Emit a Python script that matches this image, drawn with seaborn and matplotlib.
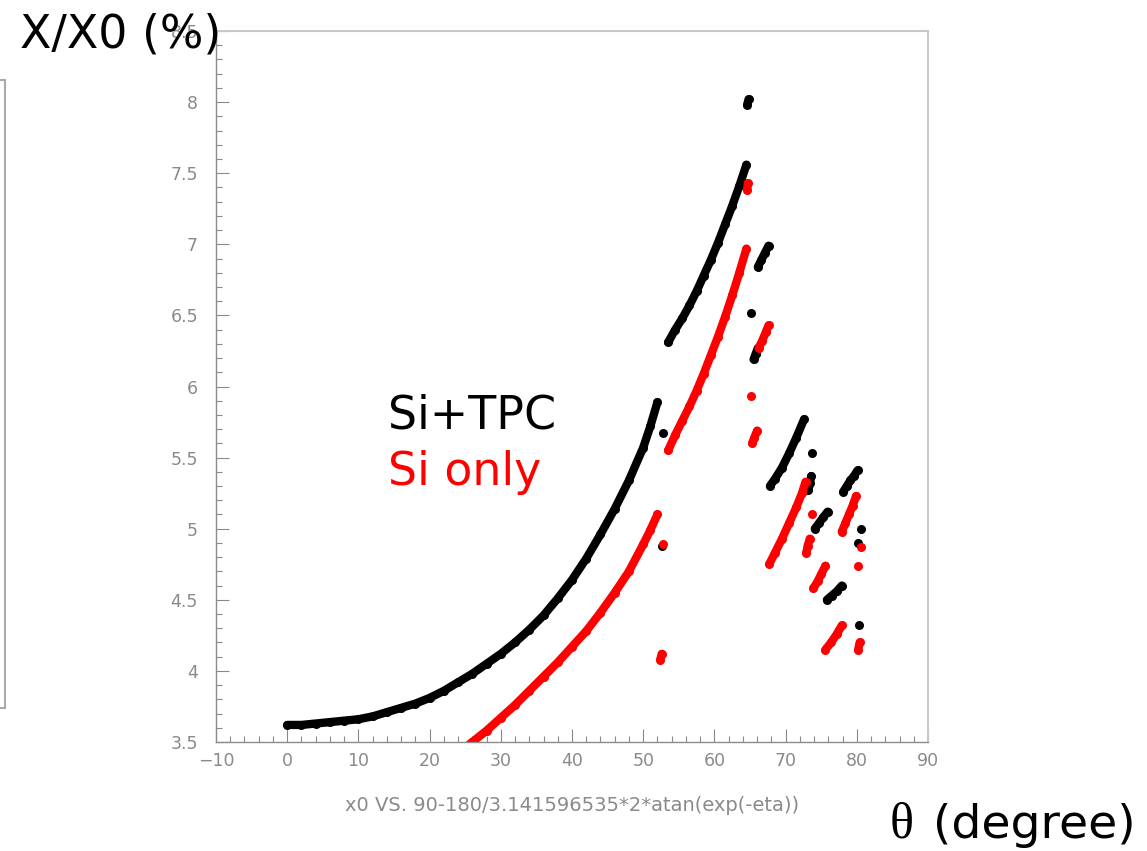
import matplotlib
matplotlib.use("Agg")
import matplotlib.pyplot as plt
from matplotlib.ticker import MultipleLocator, FuncFormatter
from matplotlib.patches import Rectangle
import pandas as pd
import seaborn as sns

# ---- Si+TPC material budget (x/X0 in %) versus polar angle theta (deg) ----
tpc_main_theta = [0, 2, 4, 6, 8, 10, 12, 14, 16, 18, 20, 22, 24, 26, 28, 30,
                  32, 34, 36, 38, 40, 42, 44, 46, 48, 50, 51, 52]
tpc_main_x0 = [3.62, 3.62, 3.63, 3.64, 3.65, 3.66, 3.68, 3.71, 3.74, 3.77,
               3.81, 3.86, 3.92, 3.98, 4.05, 4.12, 4.20, 4.29, 4.39, 4.51,
               4.64, 4.79, 4.96, 5.14, 5.34, 5.57, 5.72, 5.89]
tpc_mid_theta = [53.5, 54.5, 55.5, 56.5, 57.5, 58.5, 59.5, 60.5, 61.5, 62.5, 63.5, 64.5]
tpc_mid_x0 = [6.31, 6.40, 6.48, 6.57, 6.67, 6.78, 6.89, 7.01, 7.14, 7.27, 7.41, 7.56]
tpc_pieces = [
    ([52.8], [5.67]),
    ([52.6], [4.88]),
    ([64.6, 64.8], [7.98, 8.02]),
    ([65.2], [6.52]),
    ([65.5, 65.8, 66.1], [6.19, 6.23, 6.27]),
    ([66.1, 66.6, 67.1, 67.6], [6.84, 6.89, 6.94, 6.99]),
    ([67.8, 68.5, 69.5, 70.5, 71.5, 72.6], [5.30, 5.35, 5.43, 5.53, 5.64, 5.77]),
    ([73.7], [5.53]),
    ([73.2, 73.4, 73.6], [5.27, 5.32, 5.37]),
    ([74.1, 74.7, 75.3, 75.9], [5.00, 5.04, 5.08, 5.12]),
    ([78.1, 78.6, 79.1, 79.6, 80.1], [5.26, 5.30, 5.34, 5.37, 5.41]),
    ([80.6], [5.00]),
    ([80.2], [4.90]),
    ([75.8, 76.5, 77.2, 77.9], [4.50, 4.53, 4.56, 4.60]),
    ([80.3], [4.32]),
]

# ---- Si only ----
si_main_theta = [25, 26, 28, 30, 32, 34, 36, 38, 40, 42, 44, 46, 48, 50, 51, 52]
si_main_x0 = [3.46, 3.50, 3.58, 3.67, 3.76, 3.86, 3.96, 4.06, 4.17, 4.28,
              4.41, 4.55, 4.70, 4.89, 4.99, 5.10]
si_mid_theta = [53.5, 54.5, 55.5, 56.5, 57.5, 58.5, 59.5, 60.5, 61.5, 62.5, 63.5, 64.5]
si_mid_x0 = [5.55, 5.66, 5.76, 5.86, 5.97, 6.09, 6.22, 6.35, 6.49, 6.64, 6.80, 6.97]
si_pieces = [
    ([52.8], [4.89]),
    ([52.4, 52.6], [4.08, 4.12]),
    ([64.6, 64.7], [7.38, 7.43]),
    ([65.2], [5.93]),
    ([65.3, 65.6, 66.0], [5.60, 5.64, 5.69]),
    ([66.2, 66.7, 67.2, 67.6], [6.27, 6.32, 6.38, 6.43]),
    ([67.7, 68.5, 69.5, 70.5, 71.5, 72.3, 72.8], [4.75, 4.83, 4.93, 5.04, 5.15, 5.25, 5.33]),
    ([73.7], [5.10]),
    ([72.9, 73.1, 73.4], [4.83, 4.88, 4.93]),
    ([73.9, 74.5, 75.0, 75.6], [4.58, 4.63, 4.68, 4.74]),
    ([77.9, 78.4, 78.9, 79.4, 79.9], [4.98, 5.04, 5.10, 5.16, 5.23]),
    ([80.6], [4.87]),
    ([80.1], [4.74]),
    ([75.6, 76.4, 77.2, 77.9], [4.15, 4.20, 4.26, 4.32]),
    ([80.2, 80.4], [4.15, 4.20]),
]


def build_frame(label, segments):
    rows = []
    for k, (th, x0) in enumerate(segments):
        for a, b in zip(th, x0):
            rows.append({"theta": a, "x0": b, "series": label, "seg": k})
    return pd.DataFrame(rows)


tpc_df = build_frame("Si+TPC", [(tpc_main_theta, tpc_main_x0),
                                (tpc_mid_theta, tpc_mid_x0)] + tpc_pieces)
si_df = build_frame("Si only", [(si_main_theta, si_main_x0),
                                (si_mid_theta, si_mid_x0)] + si_pieces)

sns.set_theme(style="white")
plt.rcParams["font.family"] = ["DejaVu Sans"]

W, H = 1147, 851
fig = plt.figure(figsize=(W / 100, H / 100), dpi=100)
ax = fig.add_axes([216 / W, 1 - 742 / H, (928 - 216) / W, (742 - 31) / H])

for df, col in [(tpc_df, "black"), (si_df, "red")]:
    sns.lineplot(data=df, x="theta", y="x0", units="seg", estimator=None,
                 color=col, linewidth=6, marker="o", markersize=6.5,
                 markeredgewidth=0, solid_capstyle="round", legend=False, ax=ax)

ax.set_xlim(-10, 90)
ax.set_ylim(3.5, 8.5)
ax.xaxis.set_major_locator(MultipleLocator(10))
ax.xaxis.set_minor_locator(MultipleLocator(2))
ax.yaxis.set_major_locator(MultipleLocator(0.5))
ax.yaxis.set_minor_locator(MultipleLocator(0.1))
ax.yaxis.set_major_formatter(FuncFormatter(lambda v, p: f"{v:g}"))

grey = "#8a8a8a"
for side in ("left", "bottom"):
    ax.spines[side].set_color("#8c8c8c")
    ax.spines[side].set_linewidth(1.0)
for side in ("top", "right"):
    ax.spines[side].set_color("#c8c8c8")
    ax.spines[side].set_linewidth(1.5)
ax.tick_params(which="both", direction="in", top=False, right=False,
               bottom=True, left=True, color="#888888", width=0.8,
               labelcolor=grey, labelsize=12.5)
ax.tick_params(which="major", length=9.5)
ax.tick_params(which="minor", length=4.5)
ax.tick_params(axis="y", which="major", pad=13)
ax.tick_params(axis="x", which="major", pad=7)

ax.set_xlabel("x0 VS. 90-180/3.141596535*2*atan(exp(-eta))", color=grey,
              fontsize=14, labelpad=19)
ax.set_ylabel("")

# Edge of the neighbouring panel on the left
fig.patches.append(Rectangle((-10 / W, 1 - 708 / H), 15 / W, (708 - 80) / H,
                             transform=fig.transFigure, fill=False,
                             edgecolor="#aaaaaa", linewidth=1.5))

# Annotations
fig.text(20 / W, 1 - 47 / H, "X/X0 (%)", fontsize=33, color="black",
         va="baseline", ha="left", zorder=5)
ax.text(388 / W, 1 - 428 / H, "Si+TPC", transform=fig.transFigure,
        fontsize=33, color="black", va="baseline", ha="left")
ax.text(388 / W, 1 - 485 / H, "Si only", transform=fig.transFigure,
        fontsize=33, color="red", va="baseline", ha="left")
fig.text(890 / W, 1 - 838 / H, "θ", fontsize=36, family="Liberation Serif",
         color="black", va="baseline", ha="left")
fig.text(1136 / W, 1 - 838 / H, "(degree)", fontsize=34, color="black",
         va="baseline", ha="right")

fig.savefig("out.png", dpi=100)
